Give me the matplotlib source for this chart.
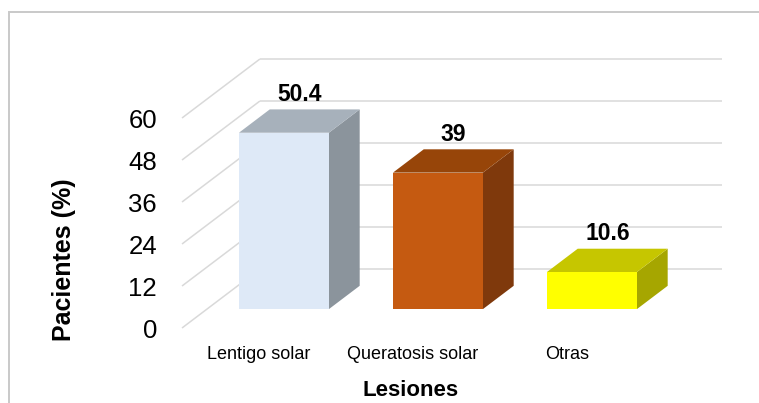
import matplotlib
matplotlib.use("Agg")
import matplotlib.pyplot as plt
from matplotlib.patches import Polygon, Rectangle

# Data
categories = ["Lentigo solar", "Queratosis solar", "Otras"]
values = [50.4, 39, 10.6]
value_labels = ["50.4", "39", "10.6"]
yticks = [0, 12, 24, 36, 48, 60]
ylabel = "Pacientes (%)"
xlabel = "Lesiones"

# Face colours per bar: front, top, side
front_colors = ["#DEE9F7", "#C55A11", "#FFFF00"]
top_colors = ["#A7B1BB", "#974509", "#C6C600"]
side_colors = ["#8B949C", "#7F390C", "#A6A600"]

plt.rcParams["font.family"] = ["Liberation Sans", "DejaVu Sans"]

W, H = 759, 403
fig = plt.figure(figsize=(W / 100, H / 100), dpi=100)

# Outer frame (only left and top edges fall inside the canvas)
fig.patches.append(Rectangle((9 / W, -0.2), 1.2, (H - 12) / H + 0.2,
                             transform=fig.transFigure, fill=False,
                             edgecolor="#C9C9C9", linewidth=1.4))

# Front plane of the 3-D box
ax = fig.add_axes([182 / W, (H - 328) / H, 462 / W, 210 / H])
ax.set_xlim(-0.5, 2.5)
ax.set_ylim(0, 60)
for s in ax.spines.values():
    s.set_visible(False)

# Depth vector of the box in data units
ddx, ddy = 0.506, 16.86
grid_color = "#D9D9D9"

for v in yticks:
    # diagonal on the left wall edge
    ax.plot([-0.5, -0.5 + ddx], [v, v + ddy], color=grid_color, lw=1.1,
            clip_on=False, zorder=1, solid_capstyle="butt")
    # horizontal line on the back wall
    ax.plot([-0.5 + ddx, 2.5 + ddx], [v + ddy, v + ddy], color=grid_color,
            lw=1.1, clip_on=False, zorder=1, solid_capstyle="butt")

half_w = 0.292
f_front, f_back = 0.32, 0.715

for i, v in enumerate(values):
    x0 = i - half_w + f_front * ddx
    x1 = i + half_w + f_front * ddx
    y0 = f_front * ddy
    bx, by = (f_back - f_front) * ddx, (f_back - f_front) * ddy
    front = [(x0, y0), (x1, y0), (x1, y0 + v), (x0, y0 + v)]
    side = [(x1, y0), (x1 + bx, y0 + by), (x1 + bx, y0 + by + v), (x1, y0 + v)]
    top = [(x0, y0 + v), (x1, y0 + v), (x1 + bx, y0 + v + by), (x0 + bx, y0 + v + by)]
    for poly, c in ((side, side_colors[i]), (top, top_colors[i]), (front, front_colors[i])):
        ax.add_patch(Polygon(poly, closed=True, facecolor=c, edgecolor="none",
                             clip_on=False, zorder=3))
    fm = 0.5 * (f_front + f_back)
    ax.annotate(value_labels[i], (i + fm * ddx, v + fm * ddy),
                xytext=(0, 14.5), textcoords="offset points",
                ha="center", va="baseline", fontsize=16.5, fontweight="bold",
                annotation_clip=False, zorder=5)

ax.set_yticks(yticks)
ax.set_yticklabels([str(t) for t in yticks])
ax.set_xticks(range(len(categories)))
ax.set_xticklabels(categories)
ax.tick_params(axis="y", length=0, pad=18, labelsize=18.5, labelcolor="black")
ax.tick_params(axis="x", length=0, pad=13, labelsize=13, labelcolor="black")

fig.text(64 / W, 1 - 260 / H, ylabel, rotation=90, ha="center", va="center",
         fontsize=18, fontweight="bold")
fig.text(411 / W, 1 - 390 / H, xlabel, ha="center", va="center",
         fontsize=16, fontweight="bold")

fig.savefig("out.png", dpi=100)
